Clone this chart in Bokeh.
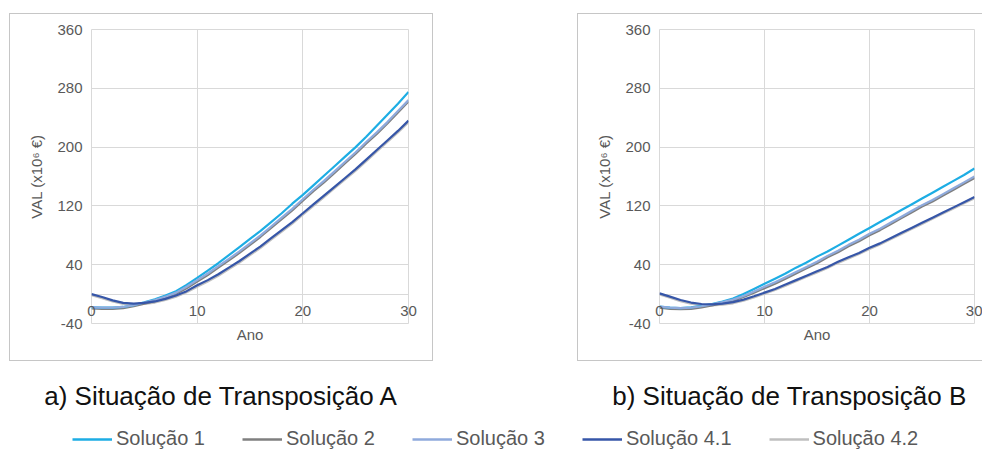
from bokeh.plotting import figure
from bokeh.models import Range1d, FixedTicker, Legend, LegendItem, Label, Spacer
from bokeh.layouts import column, row
from bokeh.embed import file_html
from bokeh.resources import INLINE

# ---------------- data ----------------
years = list(range(0, 31))
x_ticks = [0, 10, 20, 30]
y_ticks = [-40, 40, 120, 200, 280, 360]
y_grid = [-40, 0, 40, 120, 200, 280, 360]
y_tick_labels = ["-40", "40", "120", "200", "280", "360"]

series_names = ["Solução 1", "Solução 2", "Solução 3", "Solução 4.1", "Solução 4.2"]
series_colors = ["#1DADE4", "#7F7F7F", "#8FAADC", "#3656A8", "#BFBFBF"]

# a) Situação de Transposição A
sol1_a = [-18, -18.5, -18.5, -17.5, -15, -11, -7, -2, 4, 12.5, 22, 32, 42, 53, 64, 75,
          86, 98, 110, 123, 135, 148, 161, 174, 187, 200, 214, 229, 244, 259, 275]
sol2_a = [-19.5, -20, -20, -19, -16.5, -13, -9.5, -5, 0.5, 8, 17, 26, 36, 46, 56, 67,
          78, 90, 102, 114, 127, 140, 152, 165, 178, 191, 205, 218, 232, 247, 262]
sol3_a = [-18, -18.5, -18.5, -17.5, -15, -11.5, -8, -3.5, 2, 10, 19, 28, 38, 48, 58, 69,
          80, 92, 104, 116, 129, 142, 154, 167, 180, 193, 207, 220, 234, 249, 264]
sol41_a = [0, -4, -8.5, -12, -13, -12, -10, -6.5, -2, 4, 12, 19, 27, 36, 45, 55,
           65, 76, 87, 98, 110, 122, 134, 146, 158, 170, 183, 196, 209, 222, 236]
sol42_a = [-1.5, -5.5, -10, -13.5, -14.5, -13.5, -11.5, -8, -3.5, 2.5, 10, 17, 25, 34, 43, 53,
           63, 74, 85, 96, 108, 120, 132, 144, 156, 168, 181, 194, 207, 220, 234]

# b) Situação de Transposição B
sol1_b = [-17, -18.5, -19, -18, -16, -13.5, -10, -6, 0, 7, 14, 21, 28, 36, 43, 51,
          58, 66, 74, 82, 90, 98, 106, 114, 122, 130, 138, 146, 154, 162, 171]
sol2_b = [-18.5, -20, -20.5, -20, -18, -15.5, -12.5, -9, -4, 2, 8, 14, 21, 28, 35, 42,
          50, 57, 65, 72, 80, 87, 95, 103, 111, 119, 126, 134, 142, 150, 158]
sol3_b = [-17, -18.5, -19, -18.5, -16.5, -14, -11, -7.5, -2.5, 3.5, 10, 16, 23, 30, 37, 44,
          52, 59, 67, 74, 82, 89, 97, 105, 113, 121, 128, 136, 144, 152, 160]
sol41_b = [1, -3.5, -8, -11.5, -13.5, -14, -13, -11, -7.5, -3, 2, 7, 13, 19, 25, 31,
           37, 44, 50, 56, 63, 69, 76, 83, 90, 97, 104, 111, 118, 125, 132]
sol42_b = [-0.5, -5, -9.5, -13, -15, -15.5, -14.5, -12.5, -9, -4.5, 0.5, 5.5, 11.5, 17.5, 23.5, 29.5,
           35.5, 42.5, 48.5, 54.5, 61.5, 67.5, 74.5, 81.5, 88.5, 95.5, 102.5, 109.5, 116.5, 123.5, 130.5]

captions = ["a) Situação de Transposição A", "b) Situação de Transposição B"]
x_label = "Ano"
y_label = "VAL (x10⁶ €)"

FONT = "Liberation Sans"
TXT = "#595959"
GRID = "#d9d9d9"
BOX = "#c6c6c6"
CH_H = 348


def make_chart(width, mb_right, values, box_css):
    p = figure(width=width, height=CH_H, x_range=Range1d(0, 30), y_range=Range1d(-40, 360),
               output_backend="svg", toolbar_location=None, title=None,
               min_border_left=82, min_border_right=mb_right,
               min_border_top=16, min_border_bottom=38)
    p.background_fill_color = "white"
    p.border_fill_color = None
    p.outline_line_color = GRID
    p.styles = {"box-shadow": box_css, "background-color": "white"}

    # grid
    p.xgrid.ticker = FixedTicker(ticks=x_ticks)
    p.ygrid.ticker = FixedTicker(ticks=y_grid)
    p.xgrid.grid_line_color = GRID
    p.ygrid.grid_line_color = GRID
    p.xgrid.grid_line_width = 1
    p.ygrid.grid_line_width = 1

    # y axis
    ya = p.yaxis[0]
    ya.ticker = FixedTicker(ticks=y_ticks)
    ya.major_label_overrides = {t: s for t, s in zip(y_ticks, y_tick_labels)}
    ya.axis_line_color = None
    ya.major_tick_line_color = None
    ya.minor_tick_line_color = None
    ya.major_tick_out = 0
    ya.major_label_standoff = 9
    ya.major_label_text_font = FONT
    ya.major_label_text_font_size = "15px"
    ya.major_label_text_color = TXT
    ya.axis_label = y_label
    ya.axis_label_standoff = 9
    ya.axis_label_text_font = FONT
    ya.axis_label_text_font_size = "15px"
    ya.axis_label_text_font_style = "normal"
    ya.axis_label_text_color = TXT

    # x axis: labels pulled up so they sit just under the y = 0 line
    xa = p.xaxis[0]
    xa.ticker = FixedTicker(ticks=x_ticks)
    xa.axis_line_color = None
    xa.major_tick_line_color = None
    xa.minor_tick_line_color = None
    xa.major_tick_out = 0
    xa.major_tick_in = 0
    xa.major_label_standoff = -18
    xa.major_label_text_font = FONT
    xa.major_label_text_font_size = "15px"
    xa.major_label_text_color = TXT
    xa.axis_label = x_label
    xa.axis_label_standoff = 7
    xa.axis_label_text_font = FONT
    xa.axis_label_text_font_size = "15px"
    xa.axis_label_text_font_style = "normal"
    xa.axis_label_text_color = TXT

    # lines: "shadow" series first, then the ones drawn on top
    order = [4, 1, 0, 2, 3]
    for i in order:
        p.line(years, values[i], line_color=series_colors[i], line_width=2.2)
    return p


pa = make_chart(424, 25, [sol1_a, sol2_a, sol3_a, sol41_a, sol42_a],
                "inset 0 0 0 1px " + BOX)
pb = make_chart(405, 8, [sol1_b, sol2_b, sol3_b, sol41_b, sol42_b],
                "inset 1px 1px 0 0 " + BOX + ", inset 0 -1px 0 0 " + BOX)

# bottom: captions and legend
BOT_H = 90
pc = figure(width=982, height=BOT_H, x_range=Range1d(0, 982), y_range=Range1d(BOT_H, 0),
            output_backend="svg", toolbar_location=None, title=None,
            x_axis_type=None, y_axis_type=None, min_border=0)
pc.outline_line_color = None
pc.xgrid.visible = False
pc.ygrid.visible = False
pc.background_fill_color = "white"
pc.border_fill_color = "white"

cap_x = [221, 789]
for cx, txt in zip(cap_x, captions):
    pc.add_layout(Label(x=cx, y=34, text=txt, text_align="center", text_baseline="middle",
                        text_font=FONT, text_font_size="26px", text_color="#111111"))

# legend samples: one-point lines (draw nothing on the canvas, only in the legend)
all_a = [sol1_a, sol2_a, sol3_a, sol41_a, sol42_a]
items = []
for name, col, vals in zip(series_names, series_colors, all_a):
    r = pc.line([years[0]], [vals[0]], line_color=col, line_width=2.5)
    items.append(LegendItem(label=name, renderers=[r]))

legend = Legend(items=items, orientation="horizontal", location=(72, 1),
                padding=0, margin=0, spacing=37, glyph_width=40, glyph_height=20,
                label_standoff=4, label_height=20,
                label_text_font=FONT, label_text_font_size="20px", label_text_color=TXT,
                border_line_color=None, background_fill_alpha=0)
pc.add_layout(legend)

layout = column(Spacer(height=13),
                row(Spacer(width=9), pa, Spacer(width=144), pb),
                pc)

open("out.html", "w").write(file_html(layout, INLINE))
